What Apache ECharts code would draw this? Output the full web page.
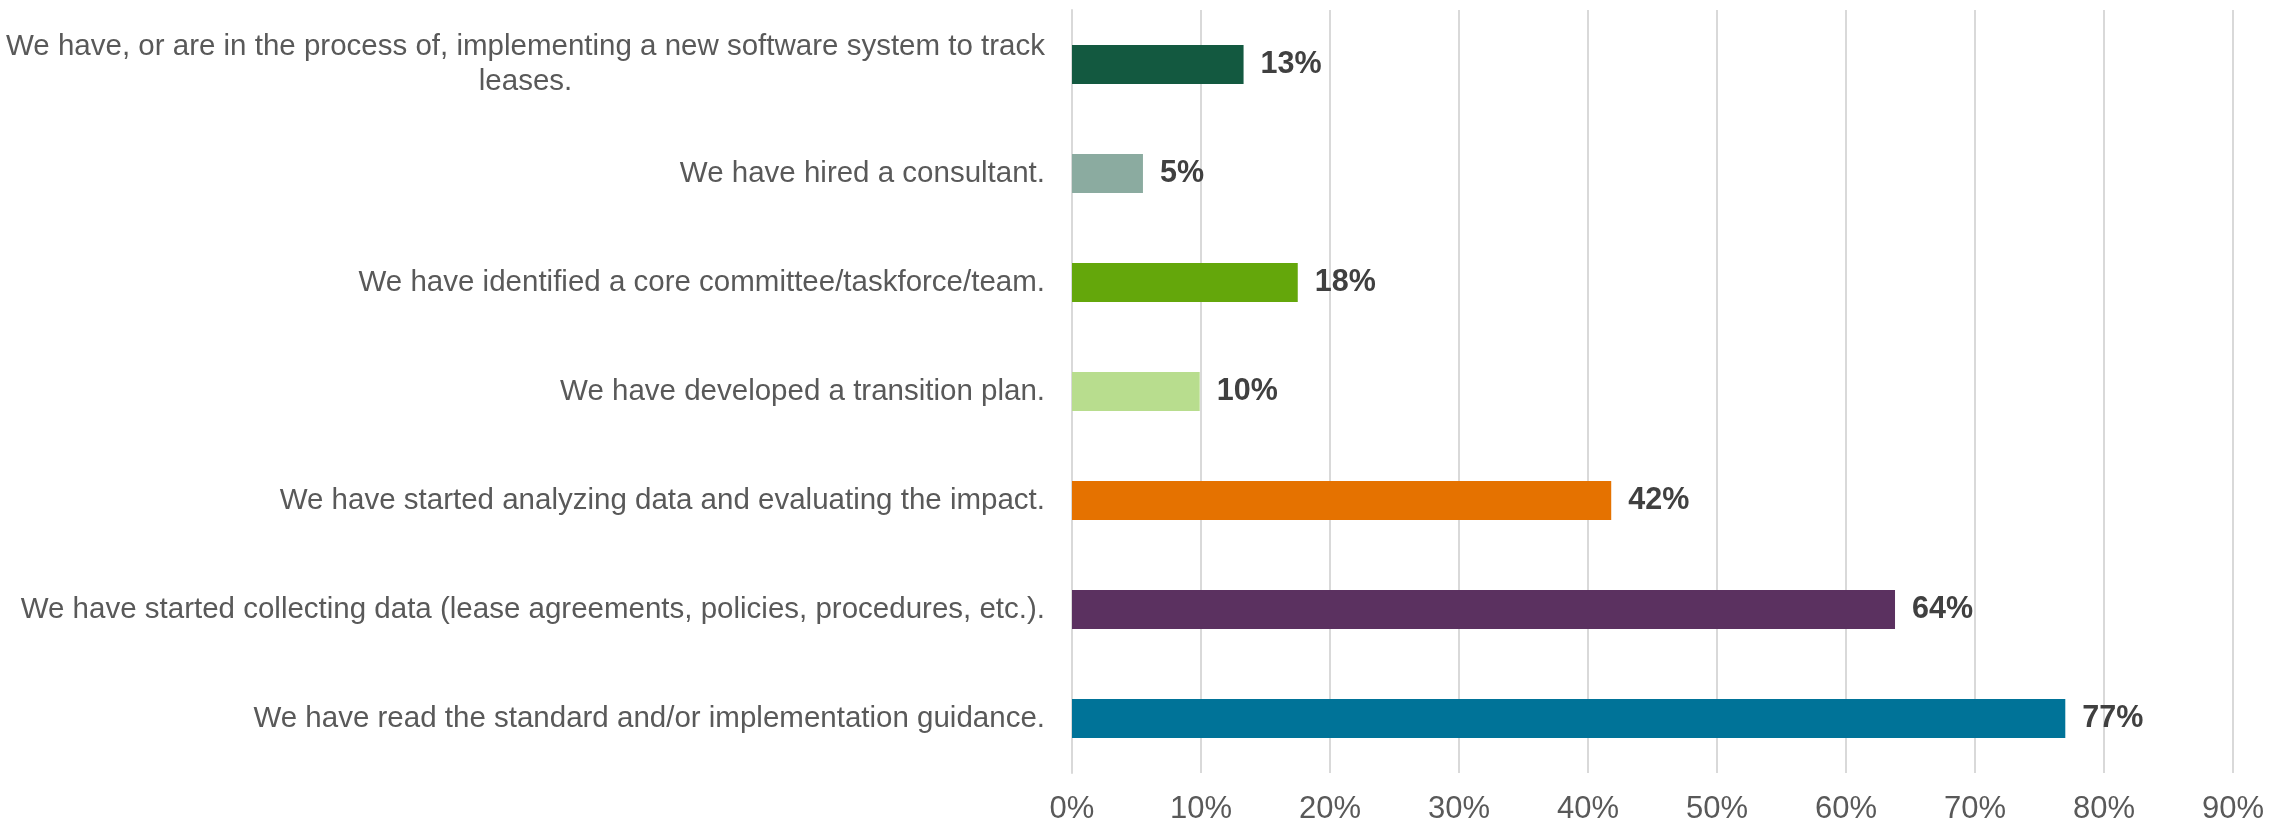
<!DOCTYPE html>
<html>
<head>
    <meta charset="utf-8">
    <script src="https://cdn.jsdelivr.net/npm/echarts@6/dist/echarts.min.js"></script>
    <style>
        html, body { margin: 0; padding: 0; background: #ffffff; }
        #chart { width: 2292px; height: 829px; }
    </style>
</head>
<body>
    <div id="chart"></div>
    <script>
        // categories, top to bottom
        var categories = [
            'We have, or are in the process of, implementing a new software system to track\nleases.',
            'We have hired a consultant.',
            'We have identified a core committee/taskforce/team.',
            'We have developed a transition plan.',
            'We have started analyzing data and evaluating the impact.',
            'We have started collecting data (lease agreements, policies, procedures, etc.).',
            'We have read the standard and/or implementation guidance.'
        ];
        // bar lengths (percent)
        var values = [13.3, 5.5, 17.5, 9.9, 41.8, 63.8, 77.0];
        // printed data labels
        var shownLabels = ['13%', '5%', '18%', '10%', '42%', '64%', '77%'];
        var barColors = ['#135940', '#8BABA0', '#64A70B', '#B8DD8E', '#E57200', '#5B3160', '#007398'];
        var ticks = [0, 10, 20, 30, 40, 50, 60, 70, 80, 90];

        var font = 'Liberation Sans, Arial, sans-serif';
        var chart = echarts.init(document.getElementById('chart'));

        var option = {
            animation: false,
            backgroundColor: '#ffffff',
            grid: {
                left: 1072,
                right: 59,
                top: 10,
                bottom: 56
            },
            xAxis: {
                type: 'value',
                min: ticks[0],
                max: ticks[ticks.length - 1],
                interval: 10,
                axisLine: { show: false },
                axisTick: { show: false },
                splitLine: { lineStyle: { color: '#d9d9d9', width: 2 } },
                axisLabel: {
                    color: '#595959',
                    fontFamily: font,
                    fontSize: 31,
                    margin: 21,
                    formatter: function (v) { return v + '%'; }
                }
            },
            yAxis: {
                type: 'category',
                inverse: true,
                data: categories,
                axisLine: { show: true, lineStyle: { color: '#d9d9d9', width: 2 } },
                axisTick: { show: false },
                axisLabel: {
                    color: '#595959',
                    fontFamily: font,
                    fontSize: 29.5,
                    margin: 27,
                    align: 'right',
                    lineHeight: 35,
                    formatter: function (v) {
                        return v.split('\n').map(function (s) { return '{c|' + s + '}'; }).join('\n');
                    },
                    rich: {
                        c: {
                            align: 'center',
                            color: '#595959',
                            fontFamily: font,
                            fontSize: 29.5,
                            lineHeight: 35
                        }
                    }
                }
            },
            series: [
                {
                    type: 'bar',
                    barWidth: 39,
                    data: values.map(function (v, i) {
                        return { value: v, itemStyle: { color: barColors[i] } };
                    }),
                    label: {
                        show: true,
                        position: 'right',
                        distance: 17,
                        color: '#404040',
                        fontFamily: font,
                        fontWeight: 'bold',
                        fontSize: 30.5,
                        formatter: function (p) { return shownLabels[p.dataIndex]; }
                    }
                }
            ]
        };
        chart.setOption(option);
    </script>
</body>
</html>
